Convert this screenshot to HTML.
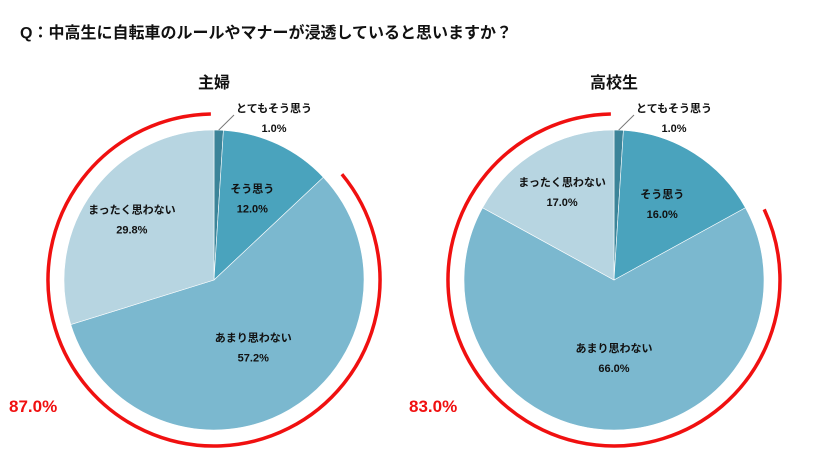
<!DOCTYPE html>
<html><head><meta charset="utf-8"><style>
body{margin:0;background:#fff;}
svg{display:block;font-family:"Liberation Sans","Noto Sans CJK JP",sans-serif;}
</style></head><body>
<svg id="c" width="816" height="455">
<text x="20" y="38" font-size="16" font-weight="bold" fill="#111">Q：中高生に自転車のルールやマナーが浸透していると思いますか？</text>
</svg>
<script>
const categories=["とてもそう思う","そう思う","あまり思わない","まったく思わない"];
const housewifeValues=[1.0,12.0,57.2,29.8];
const studentValues=[1.0,16.0,66.0,17.0];
const groupTitles=["主婦","高校生"];
const negativeTotals=["87.0%","83.0%"];
const colors=["#3b8499","#4aa3bd","#7bb8cf","#b7d5e1"];
const NS="http://www.w3.org/2000/svg";
const svg=document.getElementById('c');
function mk(t,a,p){const e=document.createElementNS(NS,t);for(const k in a)e.setAttribute(k,a[k]);(p||svg).appendChild(e);return e;}
function pt(cx,cy,r,f){const a=f*2*Math.PI;return [cx+r*Math.sin(a),cy-r*Math.cos(a)];}
function arcPath(cx,cy,r,f0,f1){const p0=pt(cx,cy,r,f0),p1=pt(cx,cy,r,f1);const l=(f1-f0)>0.5?1:0;return `M${cx},${cy}L${p0[0]},${p0[1]}A${r},${r} 0 ${l} 1 ${p1[0]},${p1[1]}Z`;}
function drawPie(cx,cy,vals,title,neg,idx){
  const g=mk('g',{});
  
  
  const t=mk('text',{x:cx,y:88,'font-size':16,'font-weight':'bold','text-anchor':'middle',fill:'#111'},g);
  
  
  t.textContent=title;
  const r=150,tot=vals.reduce((a,b)=>a+b,0);
  const rf=[0,0.6,0.52,0.68];
  let f=0;
  vals.forEach((v,i)=>{
    const f1=f+v/tot;
    const s=mk('path',{d:arcPath(cx,cy,r,f,f1),fill:colors[i],stroke:'#fff','stroke-width':0.6},g);
    
    
    const mid=(f+f1)/2;
    let lx,ly;
    if(i===0){
      const e=pt(cx,cy,r,mid);
      const ln=mk('line',{x1:e[0],y1:e[1],x2:cx+20,y2:cy-165,stroke:'#777','stroke-width':1},g);
      
      
      lx=cx+60;ly=cy-168;
    } else {
      [lx,ly]=pt(cx,cy,rf[i]*r,mid);
      ly-=6;
    }
    const l1=mk('text',{x:lx,y:ly,'font-size':11,'font-weight':'bold','text-anchor':'middle',fill:'#111'},g);
    
    
    l1.textContent=categories[i];
    const l2=mk('text',{x:lx,y:ly+20,'font-size':11,'font-weight':'bold','text-anchor':'middle',fill:'#111'},g);
    
    
    l2.textContent=v.toFixed(1)+'%';
    f=f1;
  });
  const start=(vals[0]+vals[1])/tot+0.01,end=0.997,R=166;
  const p0=pt(cx,cy,R,start),p1=pt(cx,cy,R,end);
  const a=mk('path',{d:`M${p0[0]},${p0[1]}A${R},${R} 0 1 1 ${p1[0]},${p1[1]}`,fill:'none',stroke:'#f01010','stroke-width':3.5},g);
  
  
  const n=mk('text',{x:cx-205,y:412,'font-size':17,'font-weight':'bold',fill:'#f01010'},g);
  
  
  n.textContent=neg;
}
drawPie(214,280,housewifeValues,groupTitles[0],negativeTotals[0],0);
drawPie(614,280,studentValues,groupTitles[1],negativeTotals[1],1);
</script>
</body></html>
